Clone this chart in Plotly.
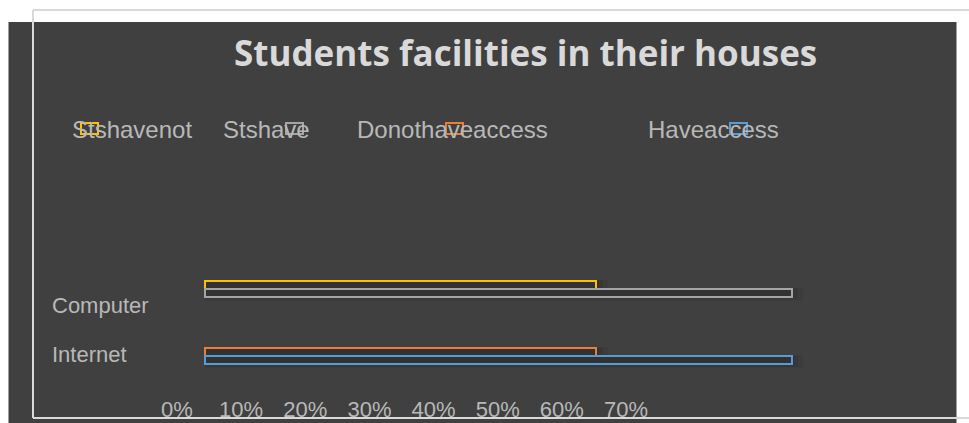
import plotly.graph_objects as go

# ---- data ----
categories = ["Computer", "Internet"]
series_names = ["Stshavenot", "Stshave", "Donothaveaccess", "Haveaccess"]
series_category = ["Computer", "Computer", "Internet", "Internet"]
series_values = [40, 60, 40, 60]
series_colors = ["#FFC000", "#A5A5A5", "#ED7D31", "#5B9BD5"]
tick_values = [0, 10, 20, 30, 40, 50, 60, 70]
tick_labels = ["0%", "10%", "20%", "30%", "40%", "50%", "60%", "70%"]
title_text = "Students facilities in their houses"

W, H = 969, 423
def px(x):
    return x / W
def py(y):
    return 1 - y / H

bar_w = 0.1185
offsets = [0, -bar_w, 0, -bar_w]

fig = go.Figure()
# soft shadow layers
for grow, alpha in [(1.2, 0.05), (0.7, 0.07), (0.3, 0.09)]:
    for name, cat, val, col, off in zip(series_names, series_category, series_values, series_colors, offsets):
        fig.add_trace(go.Bar(
            x=[val + grow], y=[cat], orientation="h", width=bar_w + grow * 0.06, offset=off - grow * 0.05,
            marker=dict(color="rgba(0,0,0,%.2f)" % alpha, line=dict(width=0)),
            showlegend=False, hoverinfo="skip"))
for name, cat, val, col, off in zip(series_names, series_category, series_values, series_colors, offsets):
    fig.add_trace(go.Bar(
        x=[val], y=[cat], name=name, orientation="h", width=bar_w, offset=off,
        marker=dict(color="#323232", line=dict(color=col, width=2)),
        showlegend=False))

# invisible carrier trace so that the label axes are drawn
fig.add_trace(go.Scatter(x=tick_values, y=[0] * len(tick_values), xaxis="x2", yaxis="y2",
                         mode="markers", marker=dict(opacity=0), showlegend=False, hoverinfo="skip"))

unit_x = 9.775
x0 = 205
unit_y = 67.5
y_int = 356.2

shapes = [
    dict(type="rect", xref="paper", yref="paper", x0=px(8.5), x1=px(956.5), y0=0, y1=py(22),
         fillcolor="#404040", line=dict(width=0), layer="below"),
    dict(type="line", xref="paper", yref="paper", x0=px(33), x1=px(33), y0=py(10), y1=py(418),
         line=dict(color="#d9d9d9", width=2), layer="above"),
    dict(type="line", xref="paper", yref="paper", x0=px(33), x1=px(969), y0=py(10), y1=py(10),
         line=dict(color="#d9d9d9", width=2), layer="above"),
    dict(type="line", xref="paper", yref="paper", x0=px(33), x1=px(969), y0=py(418), y1=py(418),
         line=dict(color="#d9d9d9", width=2), layer="above"),
]

annotations = [
    dict(text="<b>" + title_text + "</b>", xref="paper", yref="paper", x=px(525.5), y=py(53),
         xanchor="center", yanchor="middle", showarrow=False,
         font=dict(family="Open Sans", size=35, color="#d9d9d9")),
]

legend_text_x = [70, 221, 355, 646]
legend_box_x = [80, 285, 445, 729]
for name, col, tx, bx in zip(series_names, series_colors, legend_text_x, legend_box_x):
    annotations.append(dict(text=name, xref="paper", yref="paper", x=px(tx), y=py(129.5),
                            xanchor="left", yanchor="middle", showarrow=False,
                            font=dict(family="Liberation Sans", size=24, color="#b8b8b8")))
    shapes.append(dict(type="rect", xref="paper", yref="paper", x0=px(bx + 1), x1=px(bx + 18),
                       y0=py(123), y1=py(134), line=dict(color=col, width=2),
                       fillcolor="rgba(0,0,0,0)", layer="above"))

fig.update_layout(
    width=W, height=H,
    margin=dict(l=0, r=0, t=0, b=0),
    paper_bgcolor="white", plot_bgcolor="rgba(0,0,0,0)",
    barmode="overlay", bargap=0,
    showlegend=False,
    shapes=shapes, annotations=annotations,
    xaxis=dict(domain=[0, 1], range=[-x0 / unit_x, (W - x0) / unit_x], visible=False, fixedrange=True),
    yaxis=dict(domain=[0, 1], type="category", categoryorder="array", categoryarray=["Internet", "Computer"],
               range=[-(H - y_int) / unit_y, 1 + (y_int - unit_y) / unit_y], visible=False),
    xaxis2=dict(overlaying="x", anchor="free", position=py(394), side="bottom",
                range=[-177 / 6.414, (W - 177) / 6.414], tickvals=tick_values, ticktext=tick_labels,
                showgrid=False, zeroline=False, showline=False, ticks="",
                tickfont=dict(family="Liberation Sans", size=22, color="#b8b8b8")),
    yaxis2=dict(overlaying="y", anchor="free", position=px(48), side="left",
                range=[-(H - 354) / 49, 1 + 305 / 49], tickvals=[0, 1], ticktext=["Internet", "Computer"],
                ticklabelposition="inside", showgrid=False, zeroline=False, showline=False, ticks="",
                tickfont=dict(family="Liberation Sans", size=22, color="#b8b8b8")),
)

fig.write_html("out.html")
